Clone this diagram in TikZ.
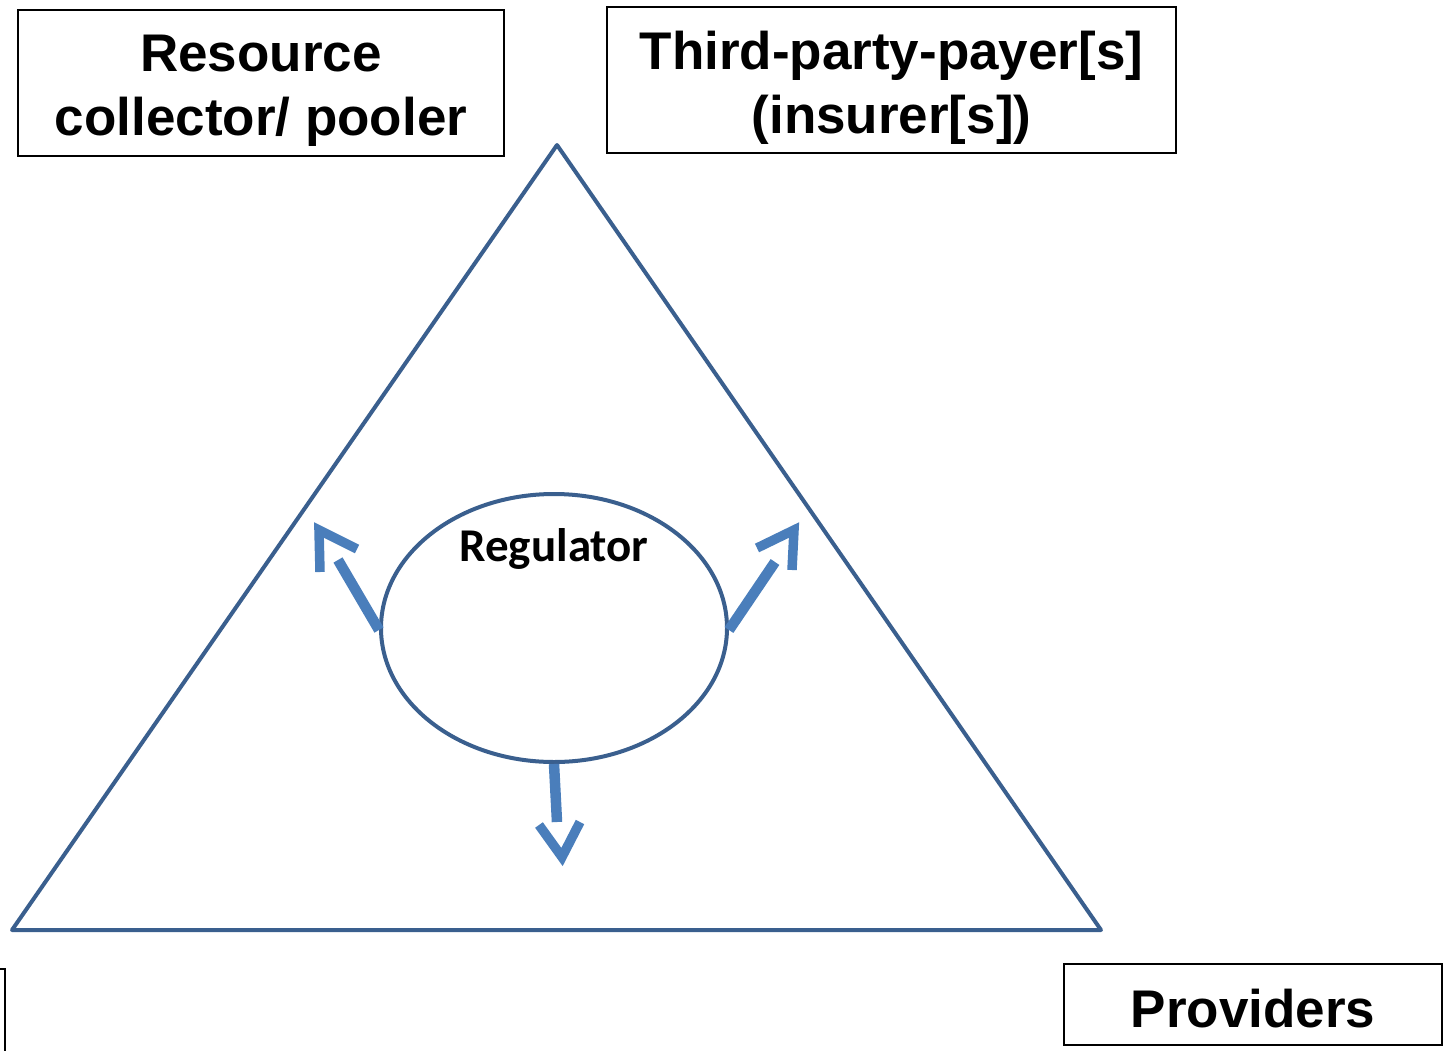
\documentclass[tikz,border=0pt]{standalone}
\usepackage{fontspec}
\setmainfont{Liberation Sans}
\newfontfamily\calib{Carlito}
\usetikzlibrary{shapes.geometric}
\definecolor{triblue}{HTML}{3A5F8E}
\definecolor{arrblue}{HTML}{4A7EBB}
\tikzset{
  labelbox/.style={draw=black, line width=1.8pt, inner sep=0pt},
  boxtext/.style={inner sep=0pt, align=center, font=\bfseries\fontsize{53}{64}\selectfont},
  shaft/.style={draw=arrblue, line width=10.5pt, line cap=butt},
  chevron/.style={draw=arrblue, line width=9.5pt, line cap=butt, line join=miter},
}
\begin{document}
\begin{tikzpicture}[x=1pt,y=-1pt]
\useasboundingbox (0,0) rectangle (1443,1050);
% boxes
\node[labelbox, minimum width=486pt, minimum height=146pt] (pool) at (261,83) {};
\node[boxtext] (poolt) at (261,91) {Resource\\collector/ pooler};
\node[labelbox, minimum width=569pt, minimum height=146pt] (payer) at (891.5,80) {};
\node[boxtext] (payert) at (891.5,88) {Third-party-payer[s]\\(insurer[s])};
\node[labelbox, minimum width=378pt, minimum height=81pt] (prov) at (1253,1004.5) {};
\node[boxtext] (provt) at (1253,1008.5) {Providers};
\node[draw=black, line width=1.8pt, minimum width=200pt, minimum height=150pt, inner sep=0pt] (cut) at (-95,1044) {};
% triangle
\coordinate (A) at (557,145);
\coordinate (B) at (12,930);
\coordinate (C) at (1101,930);
\draw[triblue, line width=4pt, line join=round] (A) -- (B) -- (C) -- cycle;
% regulator
\node[ellipse, draw=triblue, line width=4pt, minimum width=346pt, minimum height=268pt, inner sep=0pt] (reg) at (554,628) {};
\node[font=\calib\bfseries\fontsize{47}{56}\selectfont, anchor=base] (regt) at (554,561) {Regulator};
% arrows
\coordinate (l0) at (reg.west);
\coordinate (l1) at (338,560);
\draw[shaft] ([yshift=-2pt]l0) -- (l1);
\coordinate (lt) at (319,530);
\draw[chevron] (320,572) -- (lt) -- (357,549);
\coordinate (r0) at (reg.east);
\coordinate (r1) at (775,562);
\draw[shaft] ([yshift=-2pt]r0) -- (r1);
\coordinate (rt) at (794,530);
\draw[chevron] (757,548) -- (rt) -- (792,570);
\coordinate (d0) at (reg.south);
\coordinate (d1) at (557,822);
\draw[shaft] (d0) -- (d1);
\coordinate (dt) at (562,857);
\draw[chevron] (539,825) -- (dt) -- (580,822);
\end{tikzpicture}
\end{document}
